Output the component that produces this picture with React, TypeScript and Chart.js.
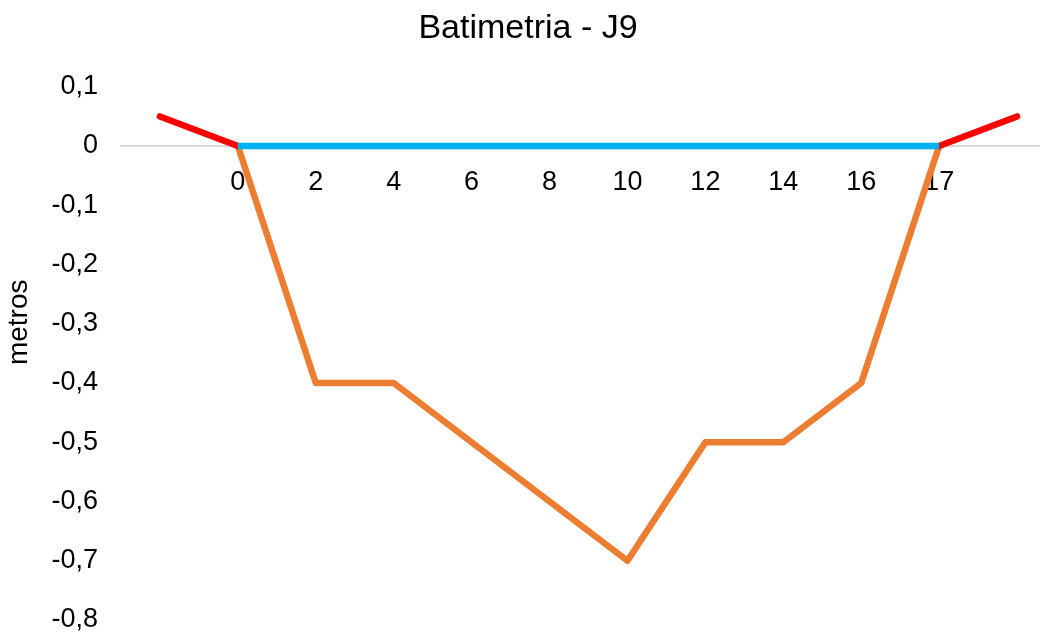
import React, { useEffect, useRef } from "react";
import { Chart, registerables } from "chart.js";

Chart.register(...registerables);

const chartTitle = "Batimetria - J9";
const yAxisTitle = "metros";
const categories = ["", "0", "2", "4", "6", "8", "10", "12", "14", "16", "17", ""];
const surface = [null, 0, 0, 0, 0, 0, 0, 0, 0, 0, 0, null];
const banks = [0.05, 0, null, null, null, null, null, null, null, null, 0, 0.05];
const riverbed = [null, 0, -0.4, -0.4, -0.5, -0.6, -0.7, -0.5, -0.5, -0.4, 0, null];
const yMin = -0.8;
const yMax = 0.1;
const yStep = 0.1;

const FONT = "'Liberation Sans', Arial, sans-serif";

function fmt(v: number): string {
  const r = Math.round(v * 10);
  if (r === 0) return "0";
  return (r / 10).toFixed(1).replace(".", ",");
}

export default function App() {
  const ref = useRef<HTMLCanvasElement | null>(null);

  useEffect(() => {
    if (!ref.current) return;
    const chart = new Chart(ref.current, {
      type: "line",
      data: {
        labels: categories,
        datasets: [
          {
            label: "superficie",
            data: surface,
            borderColor: "#00B0F0",
            borderWidth: 6.5,
            pointRadius: 0,
            borderCapStyle: "butt",
            borderJoinStyle: "round",
            spanGaps: false,
          },
          {
            label: "margens",
            data: banks,
            borderColor: "#FF0000",
            borderWidth: 6.5,
            pointRadius: 0,
            borderCapStyle: "round",
            borderJoinStyle: "round",
            spanGaps: false,
          },
          {
            label: "leito",
            data: riverbed,
            borderColor: "#ED7D31",
            borderWidth: 6.5,
            pointRadius: 0,
            borderCapStyle: "round",
            borderJoinStyle: "round",
            spanGaps: false,
          },
        ],
      },
      options: {
        responsive: false,
        animation: false,
        devicePixelRatio: 1,
        layout: { padding: { left: 0, right: 0, top: 0, bottom: 13 } },
        plugins: {
          legend: { display: false },
          tooltip: { enabled: false },
          title: {
            display: true,
            text: chartTitle,
            color: "#000",
            font: { family: FONT, size: 34, weight: "normal" },
            padding: { top: 8, bottom: 38 },
          },
        },
        scales: {
          x: {
            type: "category",
            offset: true,
            position: { y: 0 } as any,
            grid: { display: false, drawTicks: false },
            border: { display: true, color: "#D9D9D9", width: 2 },
            ticks: {
              autoSkip: false,
              maxRotation: 0,
              padding: 20,
              color: "#000",
              font: { family: FONT, size: 27 },
            },
          },
          y: {
            min: yMin,
            max: yMax,
            grid: { display: false, drawTicks: false },
            border: { display: false },
            ticks: {
              stepSize: yStep,
              padding: 23,
              color: "#000",
              font: { family: FONT, size: 27 },
              callback: (v: any) => fmt(Number(v)),
            },
            title: {
              display: true,
              text: "        " + yAxisTitle,
              color: "#000",
              font: { family: FONT, size: 28 },
              padding: { top: 2, bottom: 0 },
            },
            afterFit: (scale: any) => {
              scale.width = 121;
              scale.paddingTop = 0;
              scale.paddingBottom = 0;
            },
          },
        },
      },
    });
    return () => chart.destroy();
  }, []);

  return (
    <div
      style={{
        position: "fixed",
        left: 0,
        top: 0,
        width: 1040,
        height: 633,
        overflow: "hidden",
        background: "#fff",
      }}
    >
      <canvas ref={ref} width={1056} height={633} style={{ width: 1056, height: 633, display: "block" }} />
    </div>
  );
}
